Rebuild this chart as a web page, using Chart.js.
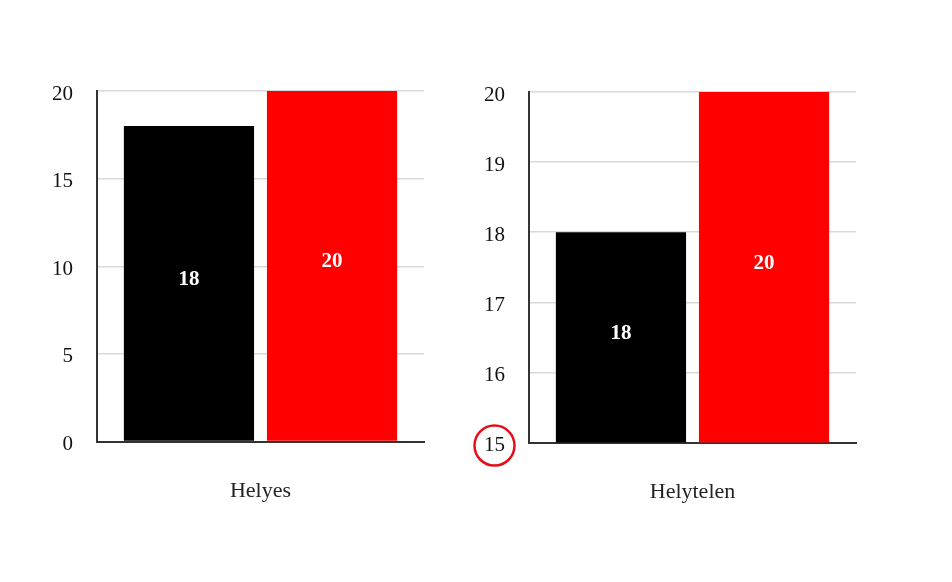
<!DOCTYPE html>
<html>
<head>
<meta charset="utf-8">
<script src="https://cdn.jsdelivr.net/npm/chart.js@4/dist/chart.umd.min.js"></script>
<style>
  body { margin: 0; background: #fff; }
  .box { position: absolute; top: 0; width: 476px; height: 582px; }
</style>
</head>
<body>
<div class="box" style="left:0"><canvas id="left"></canvas></div>
<div class="box" style="left:452px"><canvas id="right"></canvas></div>
<script>
// adatok
var seriesNames = ['Sorozat 1', 'Sorozat 2']
var seriesColors = ['#000000', '#ff0000']
var helyesLabels = ['Helyes']
var helyesValues = [[18], [20]]
var helytelenLabels = ['Helytelen']
var helytelenValues = [[18], [20]]

var serif = "'Liberation Serif', 'DejaVu Serif', serif"

// érték a hasáb (látható részének) közepére
function barLabels() {
  return {
    id: 'barLabels',
    afterDraw: function (chart) {
      var ctx = chart.ctx
      var bottom = chart.chartArea.bottom
      ctx.save()
      ctx.fillStyle = '#fff'
      ctx.font = 'bold 21px ' + serif
      ctx.textAlign = 'center'
      ctx.textBaseline = 'middle'
      chart.data.datasets.forEach(function (ds, i) {
        chart.getDatasetMeta(i).data.forEach(function (bar, j) {
          var base = Math.min(bar.base, bottom)
          ctx.fillText(ds.data[j], bar.x, (bar.y + base) / 2 - 4)
        })
      })
      ctx.restore()
    }
  }
}

// piros kör a legalsó tengelyfelirat körül
var circleMin = {
  id: 'circleMin',
  afterDraw: function (chart) {
    var y = chart.scales.y
    var ctx = chart.ctx
    ctx.save()
    ctx.font = '21px ' + serif
    var w = ctx.measureText(String(y.min)).width
    var cx = y.right - y.options.ticks.padding - w / 2
    var cy = y.getPixelForValue(y.min) + 3
    ctx.beginPath()
    ctx.arc(cx, cy, 20, 0, Math.PI * 2)
    ctx.strokeStyle = '#e3101a'
    ctx.lineWidth = 2.5
    ctx.stroke()
    ctx.restore()
  }
}

function makeChart(id, labels, values, min, max, step, pad, plugins) {
  return new Chart(document.getElementById(id), {
    type: 'bar',
    data: {
      labels: labels,
      datasets: values.map(function (v, i) {
        return {
          label: seriesNames[i],
          data: v,
          backgroundColor: seriesColors[i],
          categoryPercentage: 0.875,
          barPercentage: 0.91
        }
      })
    },
    options: {
      responsive: true,
      maintainAspectRatio: false,
      animation: false,
      layout: { padding: pad },
      plugins: { legend: { display: false }, tooltip: { enabled: false } },
      scales: {
        x: {
          grid: { display: false, drawTicks: false },
          border: { color: '#333', width: 2 },
          ticks: { color: '#222', padding: 36, font: { family: serif, size: 22 } }
        },
        y: {
          min: min,
          max: max,
          afterFit: function (s) { s.width = 57 },
          grid: { color: '#d9d9d9', lineWidth: 1.5, drawTicks: false },
          border: { color: '#333', width: 2 },
          ticks: { stepSize: step, color: '#111', padding: 24, labelOffset: 3, font: { family: serif, size: 21 } }
        }
      }
    },
    plugins: plugins
  })
}

makeChart('left', helyesLabels, helyesValues, 0, 20, 5,
  { left: 40, right: 52, top: 91, bottom: 42 }, [barLabels()])
makeChart('right', helytelenLabels, helytelenValues, 15, 20, 1,
  { left: 20, right: 72, top: 92, bottom: 41 }, [barLabels(), circleMin])
</script>
</body>
</html>
